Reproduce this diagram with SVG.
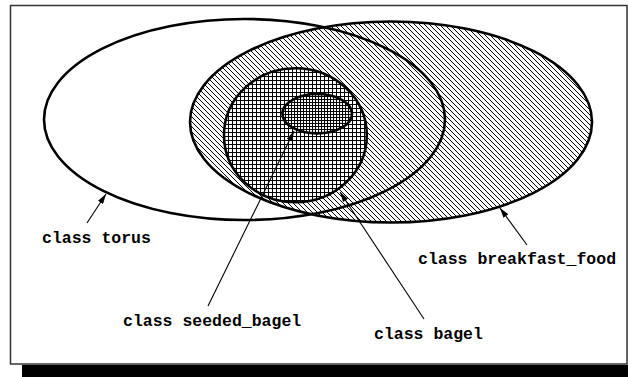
<svg xmlns="http://www.w3.org/2000/svg" width="628" height="377" viewBox="0 0 628 377">
<style>
.set{stroke:#000;stroke-width:2.6}
.lbl{font-family:"Liberation Mono","DejaVu Sans Mono",monospace;font-size:16.5px;font-weight:bold;fill:#000}
.conn{stroke:#000;stroke-width:1.1;fill:none;marker-end:url(#ah)}
</style>
<defs>
<pattern id="hatch" patternUnits="userSpaceOnUse" width="5" height="5">
<rect width="5" height="5" fill="#fff"/>
<path d="M-1,-1 L6,6 M-1,4 L1,6 M4,-1 L6,1" stroke="#000" stroke-width="1"/>
</pattern>
<pattern id="grid" patternUnits="userSpaceOnUse" width="4" height="4">
<rect width="4" height="4" fill="#fff"/>
<path d="M0,0.5 H4 M0.5,0 V4" stroke="#000" stroke-width="1"/>
</pattern>
<pattern id="fine" patternUnits="userSpaceOnUse" width="3" height="3">
<rect width="3" height="3" fill="#fff"/>
<path d="M0,0.5 H3 M0.5,0 V3" stroke="#000" stroke-width="1.1"/>
</pattern>
<marker id="ah" viewBox="0 0 10 6" refX="10" refY="3" markerWidth="10" markerHeight="6" markerUnits="userSpaceOnUse" orient="auto">
<path d="M0,0 L10,3 L0,6 Z" fill="#000"/>
</marker>
</defs>
<g id="frame">
<rect x="22" y="365" width="606" height="12" fill="#000"/>
<rect x="10.5" y="5.5" width="616.5" height="358.5" fill="#fff" stroke="#333" stroke-width="1.5"/>
</g>
<g id="breakfast_food"><ellipse class="set" cx="391" cy="122" rx="201" ry="100.5" fill="url(#hatch)"/></g>
<g id="bagel"><ellipse class="set" cx="295.4" cy="135.3" rx="71.4" ry="67" fill="url(#grid)"/></g>
<g id="seeded_bagel"><ellipse class="set" cx="317.2" cy="113.7" rx="34.8" ry="19.7" fill="url(#fine)"/></g>
<g id="torus"><ellipse class="set" cx="244.5" cy="119.5" rx="200.5" ry="100.5" fill="none"/></g>
<g id="connectors">
<line class="conn" x1="87" y1="223" x2="106" y2="194"/>
<line class="conn" x1="208" y1="306" x2="294" y2="131"/>
<line class="conn" x1="424" y1="319" x2="340" y2="192"/>
<line class="conn" x1="527" y1="245" x2="500" y2="208"/>
</g>
<g id="labels">
<text class="lbl" x="42" y="243">class torus</text>
<text class="lbl" x="418" y="264">class breakfast_food</text>
<text class="lbl" x="123" y="326">class seeded_bagel</text>
<text class="lbl" x="374" y="339">class bagel</text>
</g>
</svg>
